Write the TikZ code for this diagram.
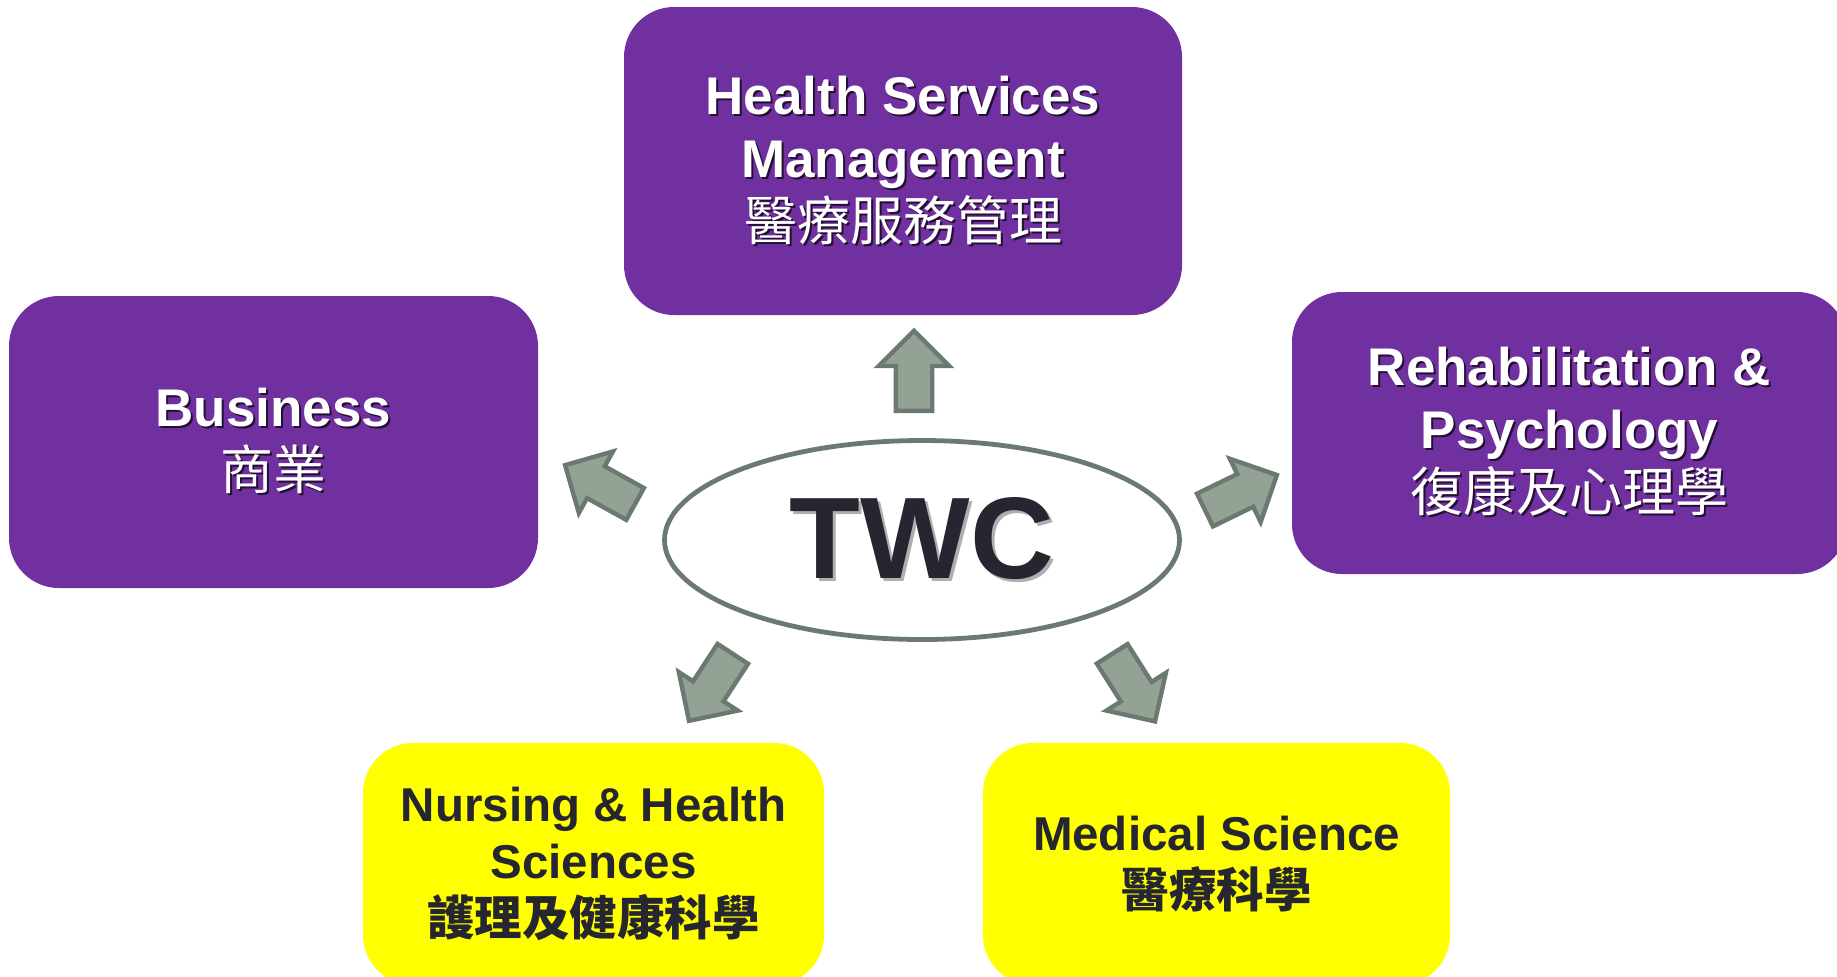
\documentclass[tikz,border=0pt]{standalone}
\usepackage{fontspec}
\setmainfont{Liberation Sans}
\newfontfamily\cjk{Noto Sans CJK TC}
\usepackage{tikz}
\usetikzlibrary{shapes.geometric,shapes.arrows}

\definecolor{twcpurple}{RGB}{112,48,160}
\definecolor{twcyellow}{RGB}{255,255,0}
\definecolor{twcink}{RGB}{38,38,48}
\definecolor{twcgreen}{RGB}{148,162,150}
\definecolor{twcline}{RGB}{107,122,112}
\definecolor{twcshade}{RGB}{35,15,50}
\definecolor{twcgrey}{RGB}{175,175,178}

% text with a small drop shadow
\newcommand{\shad}[1]{\leavevmode\rlap{\kern1pt\raisebox{-1pt}{\color{twcshade}#1}}#1}

\begin{document}
\begin{tikzpicture}[x=0.5pt,y=-0.5pt,
		dept/.style={rectangle,rounded corners=25pt,inner sep=0pt,align=center,text=white,fill=twcpurple,font=\fontsize{26.5pt}{31.5pt}\selectfont\bfseries},
		lab/.style={dept,fill=twcyellow,text=twcink,font=\fontsize{23.75pt}{28.5pt}\selectfont\bfseries},
		blockarrow/.style={single arrow,draw=twcline,fill=twcgreen,line width=2.2pt,inner xsep=0pt,inner ysep=8pt,minimum width=33pt,minimum height=40pt,single arrow head extend=8.5pt,anchor=tail}]
			\useasboundingbox (0,0) rectangle (1837,976);
			\clip (0,0) rectangle (1837,976);
			\node[dept,minimum width=279pt,minimum height=154pt] (hsm) at (903,161) {\shad{Health Services}\\\shad{Management}\\\cjk\mdseries\shad{醫療服務管理}};
			\node[dept,minimum width=264.5pt,minimum height=146pt] (bus) at (273.5,442) {\shad{Business}\\\cjk\mdseries\shad{商業}};
			\node[dept,minimum width=277.5pt,minimum height=141pt] (rehab) at (1569.5,433) {\shad{Rehabilitation \&}\\\shad{Psychology}\\\cjk\mdseries\shad{復康及心理學}};
			\node[lab,minimum width=230.5pt,minimum height=121pt] (nurs) at (593.5,864) {Nursing \& Health\\Sciences\\\cjk 護理及健康科學};
			\node[lab,minimum width=233.5pt,minimum height=121pt] (med) at (1216.5,864) {Medical Science\\\cjk 醫療科學};
			\node[ellipse,draw=twcline,line width=2.4pt,fill=white,minimum width=257.5pt,minimum height=99.5pt,inner sep=0pt,text=twcink,font=\fontsize{58pt}{58pt}\selectfont\bfseries] (twc) at (922,540) {\rlap{\kern1.5pt\raisebox{-1.5pt}{\color{twcgrey}TWC}}TWC};
			\foreach \n/\px/\py/\ang in {up/914/413/90,lt/637/505/151,rt/1203/511/26,dl/734/652/236.8,dr/1111/652/302.4}
				\node[blockarrow,rotate=\ang] (a\n) at (\px,\py) {};
		\end{tikzpicture}
\end{document}
